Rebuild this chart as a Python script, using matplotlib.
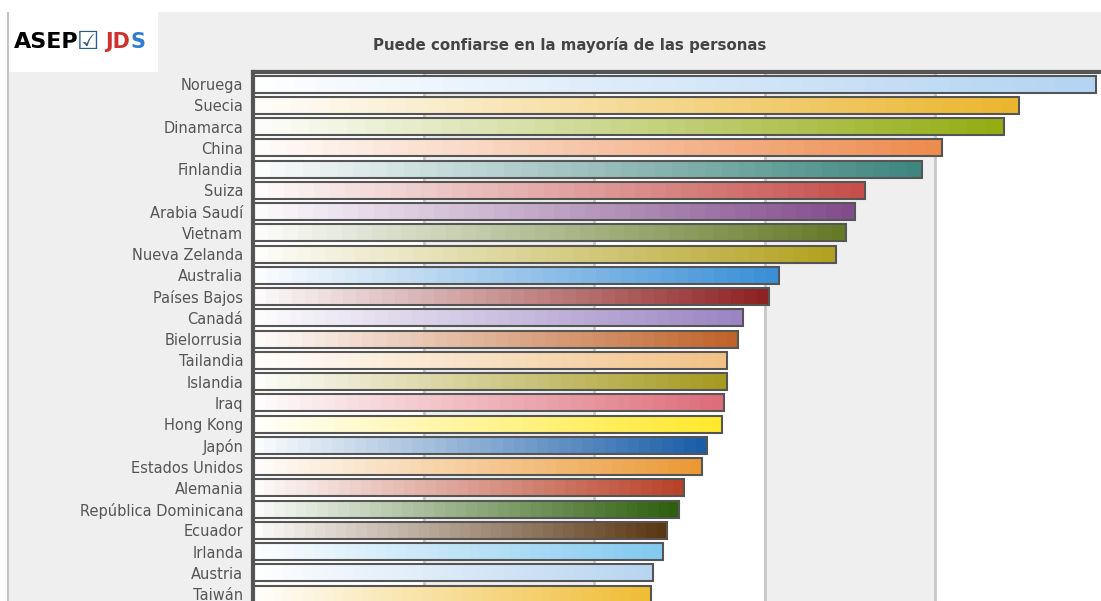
import matplotlib.pyplot as plt
import matplotlib.colors as mcolors
import numpy as np

# data (grid lines every 15 units)
paises = ["Noruega", "Suecia", "Dinamarca", "China", "Finlandia", "Suiza",
          "Arabia Saudí", "Vietnam", "Nueva Zelanda", "Australia", "Países Bajos",
          "Canadá", "Bielorrusia", "Tailandia", "Islandia", "Iraq", "Hong Kong",
          "Japón", "Estados Unidos", "Alemania", "República Dominicana", "Ecuador",
          "Irlanda", "Austria", "Taiwán"]
valores = [74.2, 67.4, 66.1, 60.6, 58.9, 53.8, 53.0, 52.2, 51.3, 46.3, 45.4,
           43.1, 42.7, 41.7, 41.7, 41.4, 41.3, 39.9, 39.5, 37.9, 37.5, 36.4,
           36.1, 35.2, 35.0]
colores = ["#b3d4f2", "#ebb62f", "#93ad13", "#ee8c4f", "#3e8680", "#c64f4c",
           "#824c8c", "#647a27", "#b3a221", "#3a8fd6", "#8e2222", "#9a85c2",
           "#c0632a", "#f2c285", "#a69a20", "#de6d7b", "#ffe92d", "#1a5ea8",
           "#ec9935", "#b94228", "#2d5f0c", "#5b3714", "#82caf0", "#b8d5f0",
           "#f0bd35"]
titulo = "Puede confiarse en la mayoría de las personas"

W, H = 1101, 601
fig = plt.figure(figsize=(W / 100, H / 100), dpi=100)
fig.patch.set_facecolor("white")

# gray panel and logo box
fig.patches.append(plt.Rectangle((8 / W, 0), 1, 1 - 12 / H, transform=fig.transFigure,
                                 facecolor="#efefef", edgecolor="none", zorder=0))
fig.patches.append(plt.Rectangle((7 / W, 0), 2 / W, 1 - 12 / H, transform=fig.transFigure,
                                 facecolor="#c4c4c4", edgecolor="none", zorder=1))
fig.patches.append(plt.Rectangle((9 / W, 1 - 72 / H), 149 / W, 60 / H, transform=fig.transFigure,
                                 facecolor="white", edgecolor="none", zorder=1))
fig.text(14 / W, 1 - 42 / H, "ASEP", fontsize=16, fontweight="bold", color="black",
         va="center", ha="left")
fig.text(77 / W, 1 - 42 / H, "\u2611", fontsize=18, color="#2b5c8a", va="center", ha="left")
fig.text(105 / W, 1 - 42 / H, "JD", fontsize=15, fontweight="bold", color="#d0312d",
         va="center", ha="left")
fig.text(131 / W, 1 - 42 / H, "S", fontsize=15, fontweight="bold", color="#2f7fd0",
         va="center", ha="left")

# axes placed in pixel terms
x0 = 253
px_unit = 170.5 / 15
xmax = 90
step = 21.25
ytop = -0.574
ybot = 25.5
ax_h = (ybot - ytop) * step
ax = fig.add_axes([x0 / W, 1 - (72 + ax_h) / H, xmax * px_unit / W, ax_h / H])
ax.set_zorder(5)
ax.set_facecolor("white")

for a in (15, 45, 75):
    ax.axvspan(a, a + 15, color="#efefef", zorder=0, lw=0)
for g in (15, 30, 45, 60, 75):
    ax.axvline(g, color="#c8c8c8", lw=2, zorder=1)

alto = 0.8
for i, (v, c) in enumerate(zip(valores, colores)):
    rgb = np.array(mcolors.to_rgb(c))
    t = np.linspace(0.02, 1, 40)[:, None]
    grad = (1 - t) * np.array([1.0, 1.0, 1.0]) + t * rgb
    ax.imshow(grad[None, :, :], extent=(0, v, i + alto / 2, i - alto / 2),
              aspect="auto", interpolation="nearest", zorder=2)

ax.barh(range(len(paises)), valores, height=alto, fill=False,
        edgecolor="#555555", linewidth=1.5, zorder=3)

ax.set_xlim(0, xmax)
ax.set_ylim(ybot, ytop)
ax.set_yticks(range(len(paises)))
ax.set_yticklabels(paises, fontsize=10.5, color="#555555")
ax.tick_params(axis="y", length=0, pad=7)
ax.set_xticks([])
for s in ("right", "bottom"):
    ax.spines[s].set_visible(False)
for s in ("top", "left"):
    ax.spines[s].set_color("#555555")
    ax.spines[s].set_linewidth(3)

fig.text(570 / W, 1 - 45 / H, titulo, fontsize=10.8, fontweight="bold",
         color="#444444", ha="center", va="center")

fig.savefig("out.png", dpi=100)
